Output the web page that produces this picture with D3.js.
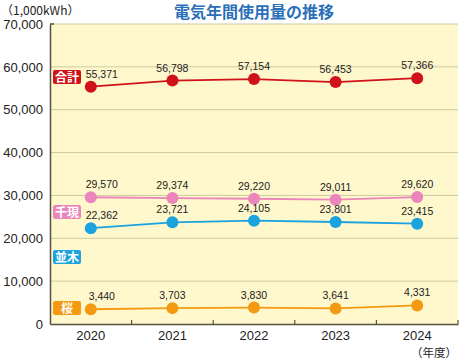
<!DOCTYPE html>
<html><head><meta charset="utf-8">
<script src="https://cdn.jsdelivr.net/npm/d3@7"></script>
<style>body{margin:0;background:#fff;}svg{display:block;font-family:"Liberation Sans",Arial,sans-serif;}</style>
</head><body>
<svg id="c" width="461" height="360"></svg>
<script>
const years = ["2020","2021","2022","2023","2024"];
const total = [55371,56798,57154,56453,57366];
const sengen = [29570,29374,29220,29011,29620];
const namiki = [22362,23721,24105,23801,23415];
const sakura = [3440,3703,3830,3641,4331];
const yTicks = [0,10000,20000,30000,40000,50000,60000,70000];
const seriesNames = ["合計","千現","並木","桜"];
const seriesColors = ["#d0121b","#ea86bb","#1aa3df","#f39a12"];
const seriesData = [total, sengen, namiki, sakura];
const labelY = [77, 212, 257, 308];

const svg = d3.select("#c");
const L=50, R=458, T=24, B=324;
const x = d3.scaleBand().domain(years).range([L,R]);
const y = d3.scaleLinear().domain([0,70000]).range([B,T]);

svg.append("rect").attr("x",L).attr("y",T).attr("width",R-L).attr("height",B-T).attr("fill","#fff8cc");

svg.append("g").selectAll("line").data(yTicks.filter(d=>d>0)).join("line")
  .attr("x1",L).attr("x2",R).attr("y1",d=>y(d)).attr("y2",d=>y(d))
  .attr("stroke","#cfcaa2").attr("stroke-width",1);

// y axis
const ya = svg.append("g").attr("transform",`translate(${L},0)`)
  .call(d3.axisLeft(y).tickValues(yTicks).tickFormat(d3.format(",")).tickSize(0).tickPadding(7));
ya.select(".domain").attr("stroke","#5a5040").attr("stroke-width",1.5);
ya.selectAll("text").attr("font-size",13).attr("fill","#222");
svg.append("line").attr("x1",L).attr("x2",L+4).attr("y1",T).attr("y2",T).attr("stroke","#5a5040").attr("stroke-width",1.5);

// x axis
const xa = svg.append("g").attr("transform",`translate(0,${B})`)
  .call(d3.axisBottom(x).tickSize(0).tickPadding(7));
xa.select(".domain").attr("stroke","#5a5040").attr("stroke-width",1.5);
xa.selectAll("text").attr("font-size",13).attr("fill","#222");
const bounds = years.slice(1).map(d=>x(d)).concat([R]);
svg.append("g").selectAll("line").data(bounds).join("line")
  .attr("x1",d=>d).attr("x2",d=>d).attr("y1",B).attr("y2",B-4)
  .attr("stroke","#5a5040").attr("stroke-width",1.2);

const cx = d => x(d)+x.bandwidth()/2;
const fmt = d3.format(",");
seriesData.forEach((vals,i)=>{
  const pts = years.map((yr,j)=>({yr,v:vals[j]}));
  svg.append("path").datum(pts)
    .attr("d",d3.line().x(d=>cx(d.yr)).y(d=>y(d.v)))
    .attr("fill","none").attr("stroke",seriesColors[i]).attr("stroke-width",1.8);
  svg.append("g").selectAll("circle").data(pts).join("circle")
    .attr("cx",d=>cx(d.yr)).attr("cy",d=>y(d.v)).attr("r",6).attr("fill",seriesColors[i]);
  svg.append("g").selectAll("text").data(pts).join("text")
    .attr("x",(d,j)=>cx(d.yr)+(j===0?11:0)).attr("y",d=>y(d.v)-9).attr("text-anchor","middle")
    .attr("font-size",10.5).attr("fill","#222").text(d=>fmt(d.v));
  const g = svg.append("g");
  g.append("rect").attr("x",53).attr("y",labelY[i]-7).attr("width",28).attr("height",14).attr("rx",2)
    .attr("fill",seriesColors[i]);
  g.append("text").attr("x",67).attr("y",labelY[i]+4.5).attr("text-anchor","middle")
    .attr("font-size",12).attr("font-weight","bold").attr("fill","#fff")
    .attr("font-family","'Noto Sans CJK JP',sans-serif").text(seriesNames[i]);
});

svg.append("text").attr("x",1).attr("y",15).attr("font-size",12).attr("fill","#222")
  .attr("font-family","'Noto Sans CJK JP',sans-serif").text("（1,000kWh）");
svg.append("text").attr("x",254).attr("y",18).attr("text-anchor","middle").attr("font-size",16)
  .attr("font-weight","bold").attr("fill","#2a6fb8")
  .attr("font-family","'Noto Sans CJK JP',sans-serif").text("電気年間使用量の推移");
svg.append("text").attr("x",457).attr("y",357).attr("text-anchor","end").attr("font-size",11.5).attr("fill","#222")
  .attr("font-family","'Noto Sans CJK JP',sans-serif").text("（年度）");
</script>
</body></html>
